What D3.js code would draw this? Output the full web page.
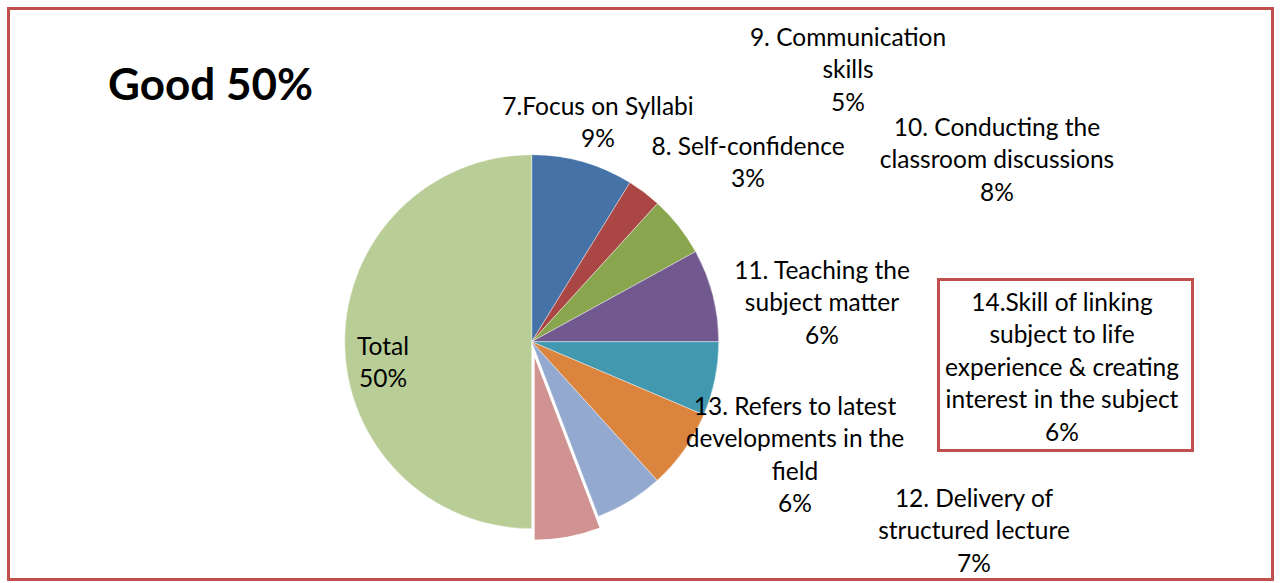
<!DOCTYPE html>
<html>
<head>
<meta charset="utf-8">
<script src="https://cdn.jsdelivr.net/npm/d3@7"></script>
<style>
  body { margin: 0; background: #fff; }
  text { font-family: Lato, "Open Sans", sans-serif; fill: #000; }
</style>
</head>
<body>
<svg id="chart" width="1280" height="583"></svg>
<script>
// slice names, in the order excel draws them (clockwise from 12 o'clock)
var categories = [
  "7.Focus on Syllabi",
  "8. Self-confidence",
  "9. Communication skills",
  "10. Conducting the classroom discussions",
  "11. Teaching the subject matter",
  "12. Delivery of structured lecture",
  "13. Refers to latest developments in the field",
  "14.Skill of linking subject to life experience & creating interest in the subject",
  "Total"
];
var values = [8.8, 2.95, 5.25, 8, 6.4, 6.9, 5.9, 5.8, 50];
var title = "Good 50%";

// how each label wraps
var labelLines = [
  ["7.Focus on Syllabi"],
  ["8. Self-confidence"],
  ["9. Communication", "skills"],
  ["10. Conducting the", "classroom discussions"],
  ["11. Teaching the", "subject matter"],
  ["12. Delivery of", "structured lecture"],
  ["13. Refers to latest", "developments in the", "field"],
  ["14.Skill of linking", "subject to life", "experience & creating", "interest in the subject"],
  ["Total"]
];

var colors = ["#4572A7", "#AA4643", "#89A54E", "#71588F", "#4198AF",
              "#DB843D", "#93A9CF", "#D19392", "#B9CD96"];

// label centres (first line) as excel placed them
var labelPos = [[598, 105], [748, 145], [848, 36], [997, 126], [822, 269],
                [974, 497], [795, 405], [1062, 301], [383, 345]];

var svg = d3.select("#chart");
var cx = 531.7, cy = 341.7, radius = 187;
var lineH = 32.4;
var explodeIdx = 7, explodeBy = 12;

// chart area border
svg.append("rect")
  .attr("x", 8.5).attr("y", 8.5)
  .attr("width", 1264).attr("height", 571)
  .style("fill", "#fff")
  .style("stroke", "#C0504D")
  .style("stroke-width", 3);

svg.append("text")
  .text(title)
  .attr("x", 108).attr("y", 100)
  .style("font-weight", "bold")
  .style("font-size", "44px");

var pie = d3.pie().sort(null).value(function (d) { return d; });
var arc = d3.arc().innerRadius(0).outerRadius(radius);
var arcs = pie(values);

var g = svg.append("g").attr("transform", "translate(" + cx + "," + cy + ")");

g.selectAll("path")
  .data(arcs)
  .enter().append("path")
  .attr("d", arc)
  .attr("transform", function (d, i) {
    if (i != explodeIdx) return null;
    var mid = (d.startAngle + d.endAngle) / 2;
    return "translate(" + (Math.sin(mid) * explodeBy) + "," + (-Math.cos(mid) * explodeBy) + ")";
  })
  .style("fill", function (d, i) { return colors[i]; })
  .style("stroke", "#fff")
  .style("stroke-width", function (d, i) { return i == explodeIdx ? 1.5 : 0.4; });

// box around label 14 (drawn first so text sits on top)
svg.append("rect")
  .attr("x", 938.5).attr("y", 279.5)
  .attr("width", 254).attr("height", 171)
  .style("fill", "#fff")
  .style("stroke", "#C0504D")
  .style("stroke-width", 3);

// data labels: name lines + percentage
var labels = svg.append("g");
arcs.forEach(function (d, i) {
  var lines = labelLines[i].concat([Math.round(d.value) + "%"]);
  var t = labels.append("text")
    .attr("text-anchor", "middle")
    .attr("dominant-baseline", "central")
    .style("font-size", "24.5px");
  lines.forEach(function (ln, k) {
    t.append("tspan")
      .attr("x", labelPos[i][0])
      .attr("y", labelPos[i][1] + k * lineH)
      .text(ln);
  });
});
</script>
</body>
</html>
